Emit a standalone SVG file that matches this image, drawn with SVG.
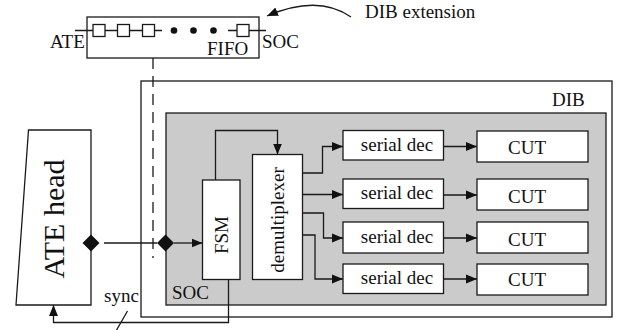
<svg xmlns="http://www.w3.org/2000/svg" width="621" height="330" viewBox="0 0 621 330">
<style>
.s{stroke:#1a1a1a;stroke-width:1.3;fill:none}
.b{stroke:#1a1a1a;stroke-width:1.3;fill:#fff}
text{font-family:"Liberation Serif",serif;font-size:19px;fill:#111}
.m{text-anchor:middle}
.big{font-size:30px}
</style>
<defs>
<marker id="ah" markerUnits="userSpaceOnUse" markerWidth="12" markerHeight="10" refX="11" refY="5" orient="auto">
<path d="M0,0.5 L11,5 L0,9.5 z" fill="#111"/>
</marker>
</defs>
<g id="fifo">
<rect class="b" x="87" y="17" width="172" height="41"/>
<path class="s" d="M75 30.5H162 M228 30.5H266"/>
<rect class="b" x="93" y="24.5" width="12" height="12"/>
<rect class="b" x="117.5" y="24.5" width="12" height="12"/>
<rect class="b" x="142.5" y="24.5" width="12" height="12"/>
<rect class="b" x="237" y="24.5" width="12" height="12"/>
<circle cx="174" cy="30.5" r="3.3" fill="#111"/>
<circle cx="193.5" cy="30.5" r="3.3" fill="#111"/>
<circle cx="213.5" cy="30.5" r="3.3" fill="#111"/>
<text x="50" y="48" font-family="Liberation Serif">ATE</text>
<text x="207" y="55">FIFO</text>
<text x="262" y="48">SOC</text>
</g>
<g id="dib-ext-label">
<text x="365" y="18">DIB extension</text>
</g>
<g id="dib">
<rect class="b" x="141" y="81" width="471" height="236"/>
<text x="552" y="106">DIB</text>
</g>
<g id="soc">
<rect x="166" y="113" width="440" height="192" fill="#cbcbcb" stroke="#1a1a1a" stroke-width="1.3"/>
<text x="172" y="298.5">SOC</text>
</g>
<g id="ate-head">
<path class="b" d="M28.5 130H91V305H16Z"/>
<text class="m big" transform="translate(64,219) rotate(-90)">ATE head</text>
</g>
<g id="fsm">
<rect class="b" x="202.5" y="180" width="37.5" height="99.5"/>
<text class="m" transform="translate(228,235) rotate(-90)">FSM</text>
</g>
<g id="demux">
<rect class="b" x="252.5" y="154.5" width="50" height="125"/>
<text class="m" transform="translate(283.5,220) rotate(-90)">demultiplexer</text>
</g>
<g id="sd1"><rect class="b" x="343" y="130.5" width="100.5" height="29.5"/><text class="m" x="397" y="150.5">serial dec</text></g>
<g id="sd2"><rect class="b" x="343" y="179" width="100.5" height="29.5"/><text class="m" x="397" y="199">serial dec</text></g>
<g id="sd3"><rect class="b" x="343" y="222" width="100.5" height="31"/><text class="m" x="397" y="243">serial dec</text></g>
<g id="sd4"><rect class="b" x="343" y="264" width="100.5" height="29.5"/><text class="m" x="397" y="283.5">serial dec</text></g>
<g id="cut1"><rect class="b" x="477" y="131" width="111" height="31"/><text class="m" x="527" y="154">CUT</text></g>
<g id="cut2"><rect class="b" x="477" y="179" width="111" height="31"/><text class="m" x="527" y="202.5">CUT</text></g>
<g id="cut3"><rect class="b" x="477" y="222" width="111" height="31"/><text class="m" x="527" y="245.5">CUT</text></g>
<g id="cut4"><rect class="b" x="477" y="264" width="111" height="31"/><text class="m" x="527" y="286">CUT</text></g>
<g id="connectors">
<path class="s" d="M351 17 Q318 -6 267 16" marker-end="url(#ah)"/>
<path class="s" d="M153 58V258" stroke-dasharray="11,7"/>
<path class="s" d="M104 243H157"/>
<path d="M91 234.5L99.5 243L91 251.5L82.5 243Z" fill="#111"/>
<path d="M165.5 234.5L174 243L165.5 251.5L157 243Z" fill="#111"/>
<path class="s" d="M174 243H202.5" marker-end="url(#ah)"/>
<path class="s" d="M215.5 180V130.5H277.5V154.5" marker-end="url(#ah)"/>
<path class="s" d="M228.5 279.5V322.5H53.5V305" marker-end="url(#ah)"/>
<text x="104" y="302">sync</text>
<path class="s" d="M127.5 311L116 331"/>
<path class="s" d="M302.5 173H322.5V146.5H343" marker-end="url(#ah)"/>
<path class="s" d="M302.5 194.5H343" marker-end="url(#ah)"/>
<path class="s" d="M302.5 213H323.5V238H343" marker-end="url(#ah)"/>
<path class="s" d="M302.5 235H315V279H343" marker-end="url(#ah)"/>
<path class="s" d="M443.5 146.5H477" marker-end="url(#ah)"/>
<path class="s" d="M443.5 195H477" marker-end="url(#ah)"/>
<path class="s" d="M443.5 238H477" marker-end="url(#ah)"/>
<path class="s" d="M443.5 279H477" marker-end="url(#ah)"/>
</g>
</svg>
